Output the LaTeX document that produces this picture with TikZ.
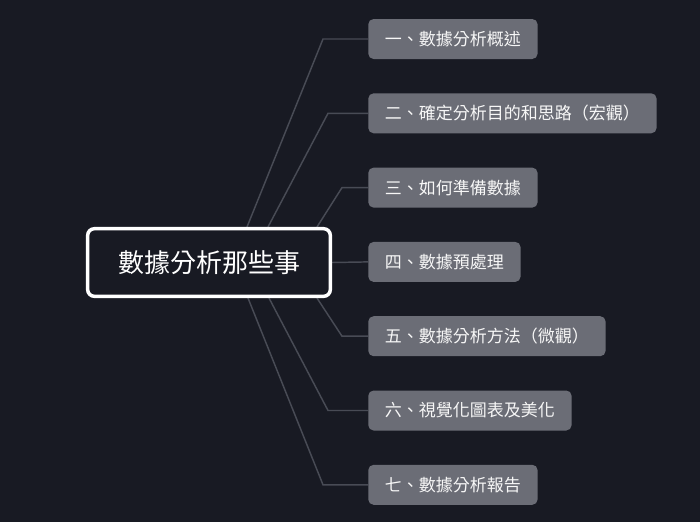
\documentclass[tikz,border=0pt]{standalone}
\usepackage{fontspec}
\setmainfont{Noto Sans CJK TC}
\usetikzlibrary{positioning,calc,backgrounds}
\definecolor{bgdark}{RGB}{24,26,35}
\definecolor{topicgray}{RGB}{107,109,118}
\definecolor{linkgray}{RGB}{72,75,85}

\begin{document}
\begin{tikzpicture}[x=0.75pt,y=-0.75pt,
  root/.style={draw=white,line width=2.6pt,fill=bgdark,rounded corners=5pt,minimum width=182pt,minimum height=50.7pt,text=white,font=\fontsize{19.5}{22}\selectfont},
  topic/.style={fill=topicgray,rounded corners=4pt,minimum height=30pt,inner xsep=12.5pt,text=white!94!gray,font=\fontsize{12.75}{15}\selectfont,anchor=west},
  link/.style={linkgray,line width=1.1pt}]
\useasboundingbox (0,0) rectangle (700,522);
\node[root] (root) at (209,262.5) {數據分析那些事};
\foreach \t [count=\i] in {一、數據分析概述,二、確定分析目的和思路（宏觀）,三、如何準備數據,四、數據預處理,五、數據分析方法（微觀）,六、視覺化圖表及美化,七、數據分析報告}
   \node[topic] (t\i) at (368,{39+74.3*(\i-1)}) {\t};
\begin{scope}[on background layer]
\fill[bgdark] (0,0) rectangle (700,522);
% upper branches leave the top edge, lower ones the bottom edge
\foreach \i/\dx/\ex in {1/38/323,2/59/328,3/108/342}
   \draw[link] ($(root.north)+(\dx,0)$) -- (\ex,0 |- t\i.west) -- (t\i.west);
\draw[link] (root.east) -- (t4.west);
\foreach \i/\dx/\ex in {5/108/342,6/60/328,7/39/323}
   \draw[link] ($(root.south)+(\dx,0)$) -- (\ex,0 |- t\i.west) -- (t\i.west);
\end{scope}
\end{tikzpicture}
\end{document}
